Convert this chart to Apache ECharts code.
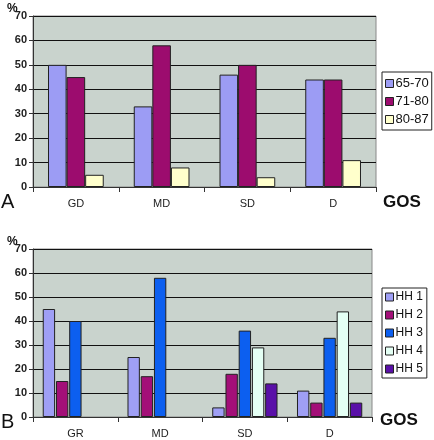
<!DOCTYPE html>
<html><head><meta charset="utf-8">
<script src="https://cdn.jsdelivr.net/npm/echarts@6/dist/echarts.min.js"></script>
<style>html,body{margin:0;padding:0;background:#fff}#c{width:434px;height:440px}</style>
</head><body><div id="c"></div>
<script>
var catsA = ['GD','MD','SD','D'];
var namesA = ['65-70','71-80','80-87'];
var s6570 = [50,33,46,44];
var s7180 = [45,58,50,44];
var s8087 = [5,8,4,11];

var catsB = ['GR','MD','SD','D'];
var namesB = ['HH 1','HH 2','HH 3','HH 4','HH 5'];
var hh1 = [45,25,4,11];
var hh2 = [15,17,18,6];
var hh3 = [40,58,36,33];
var hh4 = ['-','-',29,44];
var hh5 = ['-','-',14,6];
var yTicks = [0,10,20,30,40,50,60,70];

var colA = ['#9c9cf4','#9c0c6e','#ffffcc'];
var colB = ['#9f9ff5','#a30f78','#0c5ff0','#e4fff4','#5a10a8'];
var font = 'Liberation Sans, Arial, sans-serif';

function yAx(gi){
  return {gridIndex:gi,type:'value',min:yTicks[0],max:yTicks[yTicks.length-1],interval:10,
    axisLine:{show:true,lineStyle:{color:'#333'}},
    axisTick:{show:true,length:4,lineStyle:{color:'#333'}},
    splitLine:{lineStyle:{color:'#111',width:1}},
    axisLabel:{fontFamily:font,fontSize:11,fontWeight:'bold',color:'#222',margin:6}};
}
function xAx(gi,cats){
  return {gridIndex:gi,type:'category',data:cats,
    axisLine:{lineStyle:{color:'#333'}},
    axisTick:{show:true,length:5,alignWithLabel:false,lineStyle:{color:'#333'}},
    axisLabel:{fontFamily:font,fontSize:11,color:'#222',margin:11}};
}
function bar(name,data,xi,color,cg,g){
  return {type:'bar',name:name,data:data,xAxisIndex:xi,yAxisIndex:xi,
    barCategoryGap:cg,barGap:g,itemStyle:{color:color,borderColor:'#222',borderWidth:1}};
}
var chart = echarts.init(document.getElementById('c'),null,{renderer:'canvas'});
var series = [
  bar(namesA[0],s6570,0,colA[0],'35%','0%'),
  bar(namesA[1],s7180,0,colA[1],'35%','0%'),
  bar(namesA[2],s8087,0,colA[2],'35%','0%'),
  bar(namesB[0],hh1,1,colB[0],'23%','7%'),
  bar(namesB[1],hh2,1,colB[1],'23%','7%'),
  bar(namesB[2],hh3,1,colB[2],'23%','7%'),
  bar(namesB[3],hh4,1,colB[3],'23%','7%'),
  bar(namesB[4],hh5,1,colB[4],'23%','7%')
];
function leg(names,top,pad,fs,gap){
  return {data:names,orient:'vertical',left:382,top:top,itemWidth:8,itemHeight:8,itemGap:gap,
    padding:pad,borderColor:'#222',borderWidth:1,backgroundColor:'#fff',
    icon:'rect',itemStyle:{borderColor:'#222',borderWidth:1},
    textStyle:{fontFamily:font,fontSize:fs,color:'#111',padding:[0,0,0,-3]}};
}
chart.setOption({
  animation:false,
  backgroundColor:'#fff',
  grid:[
    {left:33,top:16,width:343,height:171,show:true,backgroundColor:'#c9d3cd',borderColor:'#888',borderWidth:1},
    {left:33,top:249,width:339,height:168,show:true,backgroundColor:'#c9d3cd',borderColor:'#888',borderWidth:1}
  ],
  xAxis:[xAx(0,catsA),xAx(1,catsB)],
  yAxis:[yAx(0),yAx(1)],
  legend:[leg(namesA,72,[5,3,4,3],13,5),leg(namesB,288,[3,4,3,3],12,6)],
  series:series,
  graphic:[
    {type:'text',left:7,top:3,style:{text:'%',font:'bold 12px '+font,fill:'#111'}},
    {type:'text',left:7,top:236,style:{text:'%',font:'bold 12px '+font,fill:'#111'}},
    {type:'text',left:1,top:192,style:{text:'A',font:'20px '+font,fill:'#111'}},
    {type:'text',left:1,top:412,style:{text:'B',font:'20px '+font,fill:'#111'}},
    {type:'text',left:383,top:194,style:{text:'GOS',font:'bold 17px '+font,fill:'#111'}},
    {type:'text',left:380,top:412,style:{text:'GOS',font:'bold 17px '+font,fill:'#111'}}
  ]
});
</script></body></html>
